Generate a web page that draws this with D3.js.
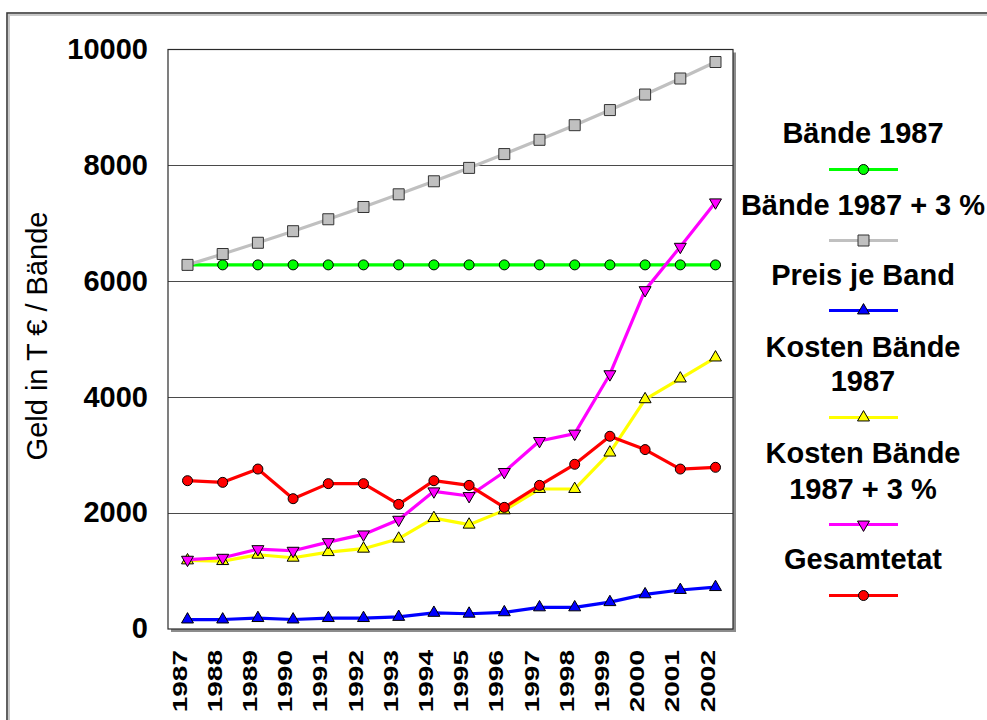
<!DOCTYPE html>
<html>
<head>
<meta charset="utf-8">
<script src="https://cdn.jsdelivr.net/npm/d3@7"></script>
<style>
  html, body { margin: 0; padding: 0; background: #fff; }
  svg { display: block; font-family: "Liberation Sans", Arial, sans-serif; }
</style>
</head>
<body>
<svg id="chart" width="987" height="720"></svg>
<script>
// Jahre (Kategorien)
const years = ["1987","1988","1989","1990","1991","1992","1993","1994",
               "1995","1996","1997","1998","1999","2000","2001","2002"];

// Reihen
const baende1987      = [6280,6280,6280,6280,6280,6280,6280,6280,6280,6280,6280,6280,6280,6280,6280,6280];
const baende1987plus3 = [6280,6468,6662,6862,7068,7280,7499,7724,7955,8194,8440,8693,8954,9222,9499,9784];
const preisJeBand     = [155,155,180,155,180,180,200,270,255,280,365,365,455,590,665,715];
const kosten1987      = [1176,1164,1274,1222,1319,1378,1551,1907,1793,2040,2409,2409,3038,3959,4317,4680];
const kosten1987plus3 = [1188,1222,1371,1343,1492,1625,1879,2369,2288,2703,3239,3366,4392,5844,6593,7360];
const gesamtetat      = [2553,2524,2754,2242,2502,2502,2144,2553,2472,2092,2472,2836,3320,3090,2754,2784];

const yTicks = [0, 2000, 4000, 6000, 8000, 10000];

const seriesNames = ["Bände 1987", "Bände 1987 + 3 %", "Preis je Band",
                     "Kosten Bände 1987", "Kosten Bände 1987 + 3 %", "Gesamtetat"];

const series = [
  { name: seriesNames[0], values: baende1987,      color: "#00ff00", shape: "circle",  fill: "#00ff00", legend: ["Bände 1987"] },
  { name: seriesNames[1], values: baende1987plus3, color: "#c0c0c0", shape: "square",  fill: "#c0c0c0", legend: ["Bände 1987 + 3 %"] },
  { name: seriesNames[2], values: preisJeBand,     color: "#0000ff", shape: "tri",     fill: "#0000ff", legend: ["Preis je Band"] },
  { name: seriesNames[3], values: kosten1987,      color: "#ffff00", shape: "tri",     fill: "#ffff00", legend: ["Kosten Bände", "1987"] },
  { name: seriesNames[4], values: kosten1987plus3, color: "#ff00ff", shape: "triDown", fill: "#ff00ff", legend: ["Kosten Bände", "1987 + 3 %"] },
  { name: seriesNames[5], values: gesamtetat,      color: "#ff0000", shape: "circle",  fill: "#ff0000", legend: ["Gesamtetat"] }
];

const svg = d3.select("#chart");

// Äußerer Rahmen
svg.append("rect").attr("x", 9).attr("y", 15).attr("width", 1000).attr("height", 800)
  .attr("fill", "none").attr("stroke", "#c8c8c8").attr("stroke-width", 2);
svg.append("rect").attr("x", 7).attr("y", 13).attr("width", 1000).attr("height", 800)
  .attr("fill", "none").attr("stroke", "#3a3a3a").attr("stroke-width", 1.6);

const plot = { left: 168, top: 49.5, right: 733, bottom: 629 };

const x = d3.scalePoint().domain(years).range([187.5, 715.5]);
const y = d3.scaleLinear().domain([0, 10000]).range([628.5, 49.5]);

// Schatten und Hintergrund der Zeichenfläche
svg.append("rect").attr("x", plot.left + 3).attr("y", plot.top + 3)
  .attr("width", plot.right - plot.left).attr("height", plot.bottom - plot.top)
  .attr("fill", "#8c8c8c");
svg.append("rect").attr("x", plot.left).attr("y", plot.top)
  .attr("width", plot.right - plot.left).attr("height", plot.bottom - plot.top)
  .attr("fill", "#fff");

// Gitterlinien
svg.append("g").selectAll("line").data(yTicks.filter(t => t > 0 && t < 10000)).join("line")
  .attr("x1", plot.left).attr("x2", plot.right)
  .attr("y1", d => Math.round(y(d)) + 0.5).attr("y2", d => Math.round(y(d)) + 0.5)
  .attr("stroke", "#4a4a4a").attr("stroke-width", 1);

svg.append("rect").attr("x", plot.left).attr("y", plot.top)
  .attr("width", plot.right - plot.left).attr("height", plot.bottom - plot.top)
  .attr("fill", "none").attr("stroke", "#2a2a2a").attr("stroke-width", 1.2);

// Y-Achse
const yAxis = d3.axisLeft(y).tickValues(yTicks).tickSize(0).tickPadding(20).tickFormat(d3.format("d"));
const yg = svg.append("g").attr("transform", `translate(${plot.left},0)`).call(yAxis);
yg.select(".domain").remove();
yg.selectAll("text").attr("font-size", 29).attr("font-weight", "bold").attr("fill", "#000")
  .attr("font-family", "'Liberation Sans', Arial, sans-serif");

// X-Achse (senkrechte Jahreszahlen)
svg.append("g").selectAll("text").data(years).join("text")
  .attr("transform", d => `translate(${x(d) - 1},650) rotate(-90) scale(1.4,1)`)
  .attr("text-anchor", "end")
  .attr("font-size", 20).attr("font-weight", "bold").attr("fill", "#000")
  .text(d => d);

// Achsentitel
svg.append("text")
  .attr("transform", "translate(47,336) rotate(-90)")
  .attr("text-anchor", "middle")
  .attr("font-size", 29).attr("fill", "#000")
  .text("Geld in T € / Bände");

// Markerformen
function symbolPath(shape) {
  if (shape === "circle") return d3.symbol().type(d3.symbolCircle).size(Math.PI * 25)();
  if (shape === "square") return d3.symbol().type(d3.symbolSquare).size(121)();
  return d3.symbol().type(d3.symbolTriangle).size(62)();
}
function symbolTransform(shape, px, py) {
  return shape === "triDown" ? `translate(${px},${py}) rotate(180)` : `translate(${px},${py})`;
}

const line = d3.line().x((d, i) => x(years[i])).y(d => y(d));

series.forEach(s => {
  const g = svg.append("g");
  g.append("path").datum(s.values).attr("d", line)
    .attr("fill", "none").attr("stroke", s.color).attr("stroke-width", 3.2)
    .attr("stroke-linejoin", "round");
  g.selectAll("path.m").data(s.values).join("path").attr("class", "m")
    .attr("d", symbolPath(s.shape))
    .attr("transform", (d, i) => symbolTransform(s.shape, x(years[i]), y(d)))
    .attr("fill", s.fill).attr("stroke", s.shape === "square" ? "#333" : "#000").attr("stroke-width", 1);
});

// Legende
const legendLayout = [
  { baselines: [143], lineY: 169.5 },
  { baselines: [215], lineY: 240.5 },
  { baselines: [285], lineY: 310.5 },
  { baselines: [357, 391], lineY: 417.5 },
  { baselines: [463, 499], lineY: 524.5 },
  { baselines: [569], lineY: 595.5 }
];
const lg = svg.append("g");
series.forEach((s, i) => {
  const L = legendLayout[i];
  s.legend.forEach((txt, j) => {
    lg.append("text").attr("x", 863).attr("y", L.baselines[j])
      .attr("text-anchor", "middle").attr("font-size", 29).attr("font-weight", "bold")
      .attr("fill", "#000").text(txt);
  });
  lg.append("line").attr("x1", 829).attr("x2", 898).attr("y1", L.lineY).attr("y2", L.lineY)
    .attr("stroke", s.color).attr("stroke-width", 3.2);
  lg.append("path").attr("d", symbolPath(s.shape))
    .attr("transform", symbolTransform(s.shape, 863.5, L.lineY))
    .attr("fill", s.fill).attr("stroke", s.shape === "square" ? "#333" : "#000").attr("stroke-width", 1);
});
</script>
</body>
</html>
